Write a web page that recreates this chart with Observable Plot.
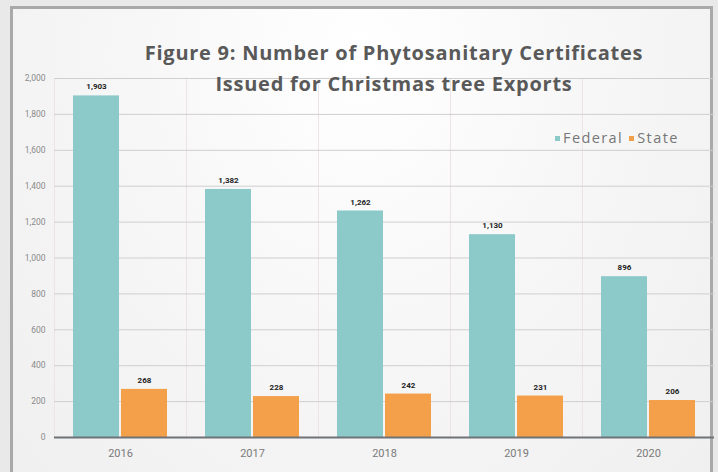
<!DOCTYPE html>
<html>
<head>
<meta charset="utf-8">
<script src="https://cdn.jsdelivr.net/npm/d3@7"></script>
<script src="https://cdn.jsdelivr.net/npm/@observablehq/plot@0.6"></script>
<style>
  html, body { margin: 0; padding: 0; background: #ffffff; }
  #wrap { position: relative; width: 718px; height: 472px; overflow: hidden; background: #e9e9e9; }
  #frame { position: absolute; left: 10px; top: 6px; width: 697px; height: 480px;
           border: 3px solid #a9a9a9;
           background: radial-gradient(ellipse at 50% 10%, #ffffff 0%, #f7f7f7 45%, #efefef 100%); }
  #chart { position: absolute; left: 0; top: 0; }
  #title { position: absolute; left: 44px; width: 700px; top: 37px; text-align: center;
           font-family: "Open Sans", sans-serif; font-weight: bold; font-size: 20px; letter-spacing: 0.75px; line-height: 31px; color: #595959; }
  #legend { position: absolute; left: 555px; top: 128px; font-family: "Open Sans", sans-serif; font-size: 14.5px; letter-spacing: 1.4px; color: #777777; white-space: nowrap; }
  #legend span.sw { display: inline-block; width: 5px; height: 5px; margin: 0 3px 2px 0; vertical-align: middle; }
</style>
</head>
<body>
<div id="wrap">
  <div id="frame"></div>
  <div id="chart"></div>
  <div id="title">Figure 9: Number of Phytosanitary Certificates<br>Issued for Christmas tree Exports</div>
  <div id="legend"><span class="sw" style="background:#8ccaca"></span>Federal <span class="sw" style="background:#f4a04a; margin-left: 1px"></span>State</div>
</div>
<script>
const years = ["2016", "2017", "2018", "2019", "2020"];
const federal = [1903, 1382, 1262, 1130, 896];
const state = [268, 228, 242, 231, 206];
const yTicks = [0, 200, 400, 600, 800, 1000, 1200, 1400, 1600, 1800, 2000];
const seriesNames = ["Federal", "State"];
const seriesColors = ["#8ccaca", "#f4a04a"];

const fedRows = years.map((y, i) => ({year: y, series: "Federal", value: federal[i]}));
const stRows = years.map((y, i) => ({year: y, series: "State", value: state[i]}));
const fmt = d3.format(",");

const plot = Plot.plot({
  width: 718,
  height: 472,
  marginLeft: 54,
  marginRight: 4,
  marginTop: 78,
  marginBottom: 35,
  style: {background: "transparent", fontFamily: "Roboto, sans-serif"},
  x: {domain: years, paddingInner: 0.29, paddingOuter: 0.145, label: null},
  y: {domain: [0, 2000], label: null},
  color: {domain: seriesNames, range: seriesColors},
  marks: [
    Plot.ruleX(years, {x: d => d, dx: -66, stroke: "#ece4e4", strokeWidth: 1}),
    Plot.ruleY(yTicks, {y: d => d, stroke: "#cfcfcf", strokeWidth: 1}),
    Plot.axisY({ticks: yTicks, tickFormat: fmt, tickSize: 0, tickPadding: 9, fontSize: 8.5, fill: "#8a8a8a", label: null}),
    Plot.axisX({tickSize: 0, tickPadding: 12, fontSize: 11, fill: "#7a7a7a", label: null}),
    Plot.barY(fedRows, {x: "year", y: "value", fill: "series", insetRight: 48}),
    Plot.barY(stRows, {x: "year", y: "value", fill: "series", insetLeft: 48}),
    Plot.text(fedRows, {x: "year", y: "value", text: d => fmt(d.value), dx: -24, dy: -9, fontSize: 8, fontWeight: "bold", fill: "#222"}),
    Plot.text(stRows, {x: "year", y: "value", text: d => fmt(d.value), dx: 24, dy: -9, fontSize: 8, fontWeight: "bold", fill: "#222"}),
    Plot.ruleY([0], {stroke: "#6f7276", strokeWidth: 2})
  ]
});
document.getElementById("chart").appendChild(plot);
</script>
</body>
</html>
